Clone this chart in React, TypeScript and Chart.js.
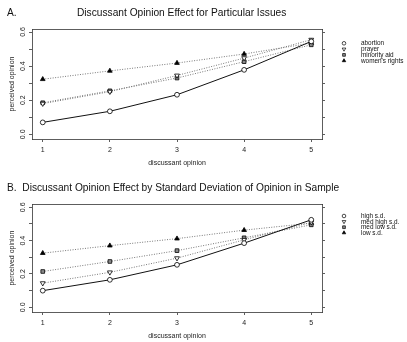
import React, { useEffect, useRef } from 'react';
import { Chart, registerables } from 'chart.js';
import { drawPoint } from 'chart.js/helpers';

Chart.register(...registerables);

// ---------- data ----------
const xValues = [1, 2, 3, 4, 5];
const yTickValues = [0, 0.1, 0.2, 0.3, 0.4, 0.5, 0.6];

const issueLabels = ['abortion', 'prayer', 'minority aid', "women's rights"];
const abortion = [0.07, 0.135, 0.232, 0.378, 0.545];
const prayer = [0.18, 0.25, 0.345, 0.447, 0.555];
const minorityAid = [0.185, 0.255, 0.33, 0.426, 0.525];
const womensRights = [0.323, 0.372, 0.418, 0.471, 0.535];

const sdLabels = ['high s.d.', 'med high s.d.', 'med low s.d.', 'low s.d.'];
const highSD = [0.1, 0.165, 0.255, 0.385, 0.525];
const medHighSD = [0.145, 0.21, 0.295, 0.405, 0.51];
const medLowSD = [0.215, 0.275, 0.34, 0.417, 0.495];
const lowSD = [0.325, 0.37, 0.412, 0.463, 0.505];

const panelALetter = 'A.';
const panelATitle = 'Discussant Opinion Effect for Particular Issues';
const panelBTitle = 'B.  Discussant Opinion Effect by Standard Deviation of Opinion in Sample';
const xAxisTitle = 'discussant opinion';
const yAxisTitle = 'perceived opinion';

// ---------- styles ----------
const FONT = "'Liberation Sans', Arial, Helvetica, sans-serif";
const INK = '#222';
const W = 407;
const H = 171;
const AREA_LEFT = 32;
const AREA_RIGHT = 322;

const seriesStyles = [
  { pointStyle: 'circle', rotation: 0, radius: 2.4, bg: '#fff', line: '#111', dash: [] as number[], width: 1 },
  { pointStyle: 'triangle', rotation: 180, radius: 2.8, bg: '#fff', line: '#777', dash: [1, 1.5], width: 1 },
  { pointStyle: 'rect', rotation: 0, radius: 2.6, bg: '#8a8a8a', line: '#777', dash: [1, 1.5], width: 1 },
  { pointStyle: 'triangle', rotation: 0, radius: 2.7, bg: '#000', line: '#777', dash: [1, 1.5], width: 1 },
];

type PanelOpts = {
  labels: string[];
  series: number[][];
  areaTop: number;
  areaBottom: number;
  yMin: number;
  yMax: number;
  titles: { text: string; x: number; y: number }[];
  legendY0: number;
  legendStep: number;
  xTitlePadBottom: number;
};

function makeConfig(p: PanelOpts): any {
  const datasets = p.series.map((vals, i) => {
    const s = seriesStyles[i];
    return {
      label: p.labels[i],
      data: vals.map((y, k) => ({ x: xValues[k], y })),
      borderColor: s.line,
      borderWidth: s.width,
      borderDash: s.dash,
      pointStyle: s.pointStyle,
      pointRotation: s.rotation,
      pointRadius: s.radius,
      pointBackgroundColor: s.bg,
      pointBorderColor: '#000',
      pointBorderWidth: 0.8,
      fill: false,
      tension: 0,
    };
  });

  const ticks = () => yTickValues.map((v) => ({ value: v }));

  const decor = {
    id: 'decor',
    afterDraw(chart: any) {
      const ctx = chart.ctx;
      ctx.save();
      ctx.fillStyle = '#111';
      ctx.textAlign = 'left';
      ctx.textBaseline = 'alphabetic';
      ctx.font = `10.2px ${FONT}`;
      p.titles.forEach((t) => ctx.fillText(t.text, t.x, t.y));
      chart.data.datasets.forEach((ds: any, i: number) => {
        const y = p.legendY0 + i * p.legendStep;
        ctx.fillStyle = ds.pointBackgroundColor;
        ctx.strokeStyle = '#000';
        ctx.lineWidth = 0.7;
        drawPoint(
          ctx,
          { pointStyle: ds.pointStyle, rotation: ds.pointRotation, radius: ds.pointRadius * 0.75, borderWidth: 0.7 },
          344,
          y
        );
        ctx.fillStyle = '#111';
        ctx.font = `6.4px ${FONT}`;
        ctx.textBaseline = 'middle';
        ctx.fillText(ds.label, 361, y + 0.4);
      });
      ctx.restore();
    },
  };

  return {
    type: 'line',
    data: { datasets },
    plugins: [decor],
    options: {
      responsive: false,
      animation: false,
      events: [],
      layout: { padding: { top: p.areaTop, left: 0, right: 0, bottom: 0 } },
      plugins: { legend: { display: false }, tooltip: { enabled: false }, title: { display: false } },
      scales: {
        x: {
          type: 'linear',
          position: 'bottom',
          min: 0.84,
          max: 5.16,
          afterBuildTicks: (axis: any) => {
            axis.ticks = xValues.map((v) => ({ value: v }));
          },
          afterFit: (axis: any) => {
            axis.height = H - p.areaBottom;
          },
          grid: { drawOnChartArea: false, drawTicks: true, tickLength: 3, color: '#333', lineWidth: 0.8 },
          border: { display: true, color: '#333', width: 0.8 },
          ticks: { color: INK, font: { family: FONT, size: 7 }, padding: 4, callback: (v: any) => String(v) },
          title: {
            display: true,
            text: xAxisTitle,
            color: INK,
            font: { family: FONT, size: 7 },
            padding: { top: 0, bottom: p.xTitlePadBottom },
          },
        },
        xTop: {
          type: 'linear',
          position: 'top',
          min: 0.84,
          max: 5.16,
          afterFit: (axis: any) => {
            axis.height = 0;
          },
          grid: { display: false },
          border: { display: true, color: '#333', width: 0.8 },
          ticks: { display: false },
        },
        y: {
          type: 'linear',
          position: 'left',
          min: p.yMin,
          max: p.yMax,
          afterBuildTicks: (axis: any) => {
            axis.ticks = ticks();
          },
          afterFit: (axis: any) => {
            axis.width = AREA_LEFT;
          },
          grid: { drawOnChartArea: false, drawTicks: true, tickLength: 3, color: '#333', lineWidth: 0.8 },
          border: { display: true, color: '#333', width: 0.8 },
          ticks: {
            color: INK,
            font: { family: FONT, size: 7 },
            minRotation: 90,
            maxRotation: 90,
            crossAlign: 'center',
            padding: 1.5,
            callback: (v: any) => (Math.round(v * 10) % 2 === 0 ? Number(v).toFixed(1) : ''),
          },
          title: {
            display: true,
            text: yAxisTitle,
            color: INK,
            font: { family: FONT, size: 7 },
            padding: { top: 7.5, bottom: 0 },
          },
        },
        yRight: {
          type: 'linear',
          position: 'right',
          min: p.yMin,
          max: p.yMax,
          afterBuildTicks: (axis: any) => {
            axis.ticks = ticks();
          },
          afterFit: (axis: any) => {
            axis.width = W - AREA_RIGHT;
          },
          grid: { drawOnChartArea: false, drawTicks: true, tickLength: 3, color: '#333', lineWidth: 0.8 },
          border: { display: true, color: '#333', width: 0.8 },
          ticks: { display: false },
        },
      },
    },
  };
}

function Panel({ opts, top }: { opts: PanelOpts; top: number }) {
  const ref = useRef<HTMLCanvasElement | null>(null);
  useEffect(() => {
    if (!ref.current) return;
    const chart = new Chart(ref.current, makeConfig(opts));
    return () => chart.destroy();
  }, []);
  return (
    <canvas
      ref={ref}
      width={W}
      height={H}
      style={{ position: 'absolute', left: 0, top, width: W, height: H }}
    />
  );
}

const panelA: PanelOpts = {
  labels: issueLabels,
  series: [abortion, prayer, minorityAid, womensRights],
  areaTop: 29,
  areaBottom: 139,
  yMin: -0.0275,
  yMax: 0.6176,
  titles: [
    { text: panelALetter, x: 7, y: 15.5 },
    { text: panelATitle, x: 77, y: 15.5 },
  ],
  legendY0: 43.3,
  legendStep: 5.8,
  xTitlePadBottom: 3.8,
};

const panelB: PanelOpts = {
  labels: sdLabels,
  series: [highSD, medHighSD, medLowSD, lowSD],
  areaTop: 33.3,
  areaBottom: 141,
  yMin: -0.028,
  yMax: 0.618,
  titles: [{ text: panelBTitle, x: 7, y: 19.7 }],
  legendY0: 45,
  legendStep: 5.6,
  xTitlePadBottom: 1.8,
};

export default function App() {
  return (
    <div style={{ position: 'absolute', left: 0, top: 0, width: W, height: 342, background: '#fff' }}>
      <Panel opts={panelA} top={0} />
      <Panel opts={panelB} top={171} />
    </div>
  );
}
